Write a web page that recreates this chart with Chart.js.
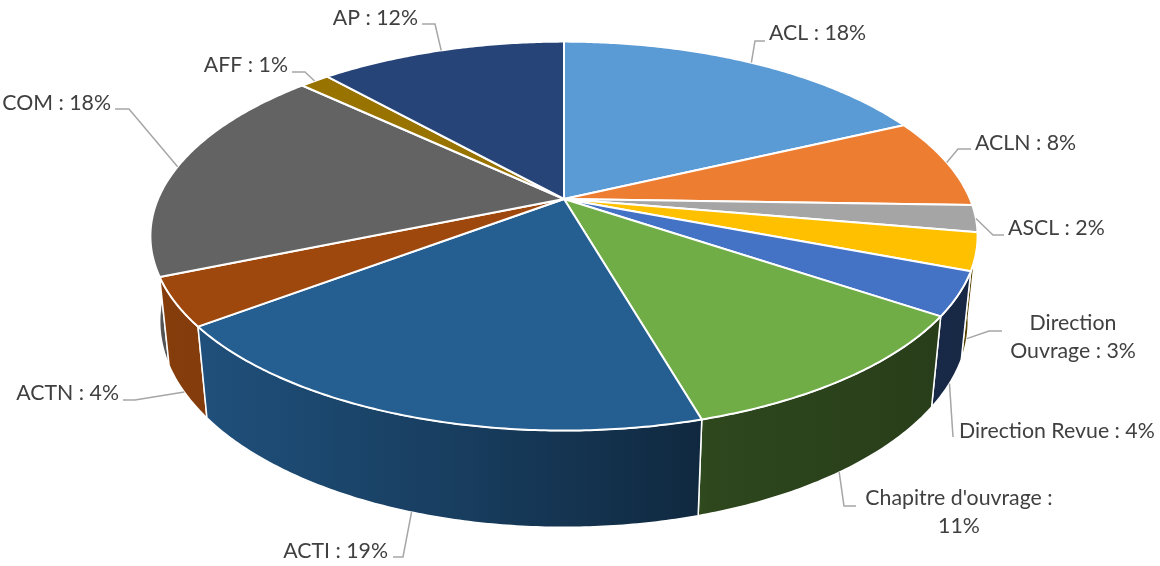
<!DOCTYPE html>
<html lang="fr">
<head>
    <meta charset="utf-8">
    <script src="https://cdn.jsdelivr.net/npm/chart.js@4"></script>
    <style>
        html, body { margin: 0; padding: 0; background: #fff; }
        canvas { display: block; }
    </style>
</head>

<body>

<canvas id="myChart" width="1160" height="566"></canvas>
<script>
    const categories = ['ACL', 'ACLN', 'ASCL', 'Direction Ouvrage', 'Direction Revue', "Chapitre d'ouvrage", 'ACTI', 'ACTN', 'COM', 'AFF', 'AP'];
    const shares = [18.0, 7.5, 2.25, 3.1, 3.6, 11.08, 19.17, 4.0, 18.3, 1.4, 11.6];
    const colors = ['#5B9BD5', '#ED7D31', '#A5A5A5', '#FFC000', '#4472C4', '#70AD47', '#255E91', '#9E480E', '#636363', '#997300', '#264478'];

    // label boxes: text lines, where they sit, leader knee and end, which rim the leader starts on
    const labelLayout = [
        { lines: ['ACL : $'], x: 769, y: 33, align: 'left', leader: [[755, 41], [765, 41]], rim: 0 },
        { lines: ['ACLN : $'], x: 975, y: 143, align: 'left', leader: [[958, 149], [971, 149]], rim: 0 },
        { lines: ['ASCL : $'], x: 1008, y: 228, align: 'left', leader: [[993, 235], [1004, 235]], rim: 0 },
        { lines: ['Direction', 'Ouvrage : $'], x: 1073, y: 323, align: 'center', leader: [[989, 331], [1002, 331]], rim: 1 },
        { lines: ['Direction Revue : $'], x: 959, y: 431, align: 'left', leader: [[953, 437]], rim: 1 },
        { lines: ["Chapitre d'ouvrage :", '$'], x: 959, y: 498, align: 'center', leader: [[844, 506], [856, 506]], rim: 1 },
        { lines: ['ACTI : $'], x: 388, y: 551, align: 'right', leader: [[403, 557], [393, 557]], rim: 1 },
        { lines: ['ACTN : $'], x: 119, y: 393, align: 'right', leader: [[135, 400], [123, 400]], rim: 1 },
        { lines: ['COM : $'], x: 111, y: 103, align: 'right', leader: [[129, 109], [115, 109]], rim: 0 },
        { lines: ['AFF : $'], x: 288, y: 65, align: 'right', leader: [[305, 72], [292, 72]], rim: 0 },
        { lines: ['AP : $'], x: 418, y: 18, align: 'right', leader: [[435, 24], [422, 24]], rim: 0 }
    ];

    // perspective of the tilted disc, fitted on the picture
    const view = { cx: 564, cy: 199, a: 406, b: 187.4, p: 0.1907, q: 0.02214, c: 85.6 };
    const sideShade = [[0, 0.85], [0.07, 0.84], [0.36, 0.66], [0.66, 0.44], [0.67, 0.41], [0.95, 0.36], [1, 0.34]];

    // angle is the chart.js one (0 = 3 o'clock), rim 0 = top face, 1 = bottom face
    function project(angle, radius, rim) {
        const u = radius * Math.cos(angle);
        const v = -radius * Math.sin(angle);
        const w = 1 + view.p * v + view.q * rim;
        return {
            x: view.cx + view.a * u / w,
            y: view.cy + (-view.b * v + view.c * rim) / w
        };
    }

    function rimPoints(start, end, rim) {
        const steps = Math.max(2, Math.ceil((end - start) / 0.01));
        const pts = [];
        for (let i = 0; i <= steps; i++) {
            pts.push(project(start + (end - start) * i / steps, 1, rim));
        }
        return pts;
    }

    function shade(hex, f) {
        const n = parseInt(hex.slice(1), 16);
        return `rgb(${Math.round((n >> 16) * f)}, ${Math.round(((n >> 8) & 255) * f)}, ${Math.round((n & 255) * f)})`;
    }

    function tracePoints(ctx, pts) {
        pts.forEach((pt, i) => i ? ctx.lineTo(pt.x, pt.y) : ctx.moveTo(pt.x, pt.y));
    }

    // top face of each slice goes through the normal element draw
    Chart.ArcElement.prototype.draw = function (ctx) {
        ctx.save();
        ctx.beginPath();
        tracePoints(ctx, [project(0, 0, 0)].concat(rimPoints(this.startAngle, this.endAngle, 0)));
        ctx.closePath();
        ctx.fillStyle = this.options.backgroundColor;
        ctx.fill();
        ctx.lineJoin = 'round';
        ctx.lineWidth = this.options.borderWidth;
        ctx.strokeStyle = this.options.borderColor;
        ctx.stroke();
        ctx.restore();
    };

    const sidesPlugin = {
        id: 'sides',
        beforeDatasetsDraw(chart) {
            const ctx = chart.ctx;
            const arcs = chart.getDatasetMeta(0).data.map((arc, i) => ({ arc, i }));
            // back slices first
            arcs.sort((l, r) => Math.sin((l.arc.startAngle + l.arc.endAngle) / 2) - Math.sin((r.arc.startAngle + r.arc.endAngle) / 2));
            arcs.forEach(({ arc, i }) => {
                const top = rimPoints(arc.startAngle, arc.endAngle, 0);
                const bottom = rimPoints(arc.startAngle, arc.endAngle, 1).reverse();
                const grad = ctx.createLinearGradient(150, 0, 980, 0);
                sideShade.forEach(([pos, f]) => grad.addColorStop(pos, shade(colors[i], f)));
                ctx.save();
                ctx.beginPath();
                tracePoints(ctx, top.concat(bottom));
                ctx.closePath();
                ctx.fillStyle = grad;
                ctx.fill();
                ctx.lineJoin = 'round';
                ctx.lineWidth = 1.5;
                ctx.strokeStyle = '#ffffff';
                ctx.stroke();
                ctx.restore();
            });
        }
    };

    const labelsPlugin = {
        id: 'labels3d',
        afterDatasetsDraw(chart) {
            const ctx = chart.ctx;
            chart.getDatasetMeta(0).data.forEach((arc, i) => {
                const box = labelLayout[i];
                const mid = (arc.startAngle + arc.endAngle) / 2;
                ctx.save();
                ctx.beginPath();
                tracePoints(ctx, [project(mid, 1, box.rim)].concat(box.leader.map(p => ({ x: p[0], y: p[1] }))));
                ctx.lineWidth = 1.5;
                ctx.strokeStyle = '#A6A6A6';
                ctx.stroke();

                ctx.font = '21.3px Lato';
                ctx.fillStyle = '#404040';
                ctx.textAlign = box.align;
                ctx.textBaseline = 'middle';
                box.lines.forEach((line, n) => {
                    ctx.fillText(line.replace('$', Math.round(shares[i]) + '%'), box.x, box.y + n * 28.5);
                });
                ctx.restore();
            });
        }
    };

    const myChart = new Chart(document.getElementById('myChart'), {
        type: 'pie',
        data: {
            labels: categories,
            datasets: [{
                data: shares,
                backgroundColor: colors,
                borderColor: '#ffffff',
                borderWidth: 2
            }]
        },
        options: {
            responsive: false,
            animation: false,
            events: [],
            plugins: {
                legend: { display: false },
                tooltip: { enabled: false }
            }
        },
        plugins: [sidesPlugin, labelsPlugin]
    });
</script>
</body>
</html>
